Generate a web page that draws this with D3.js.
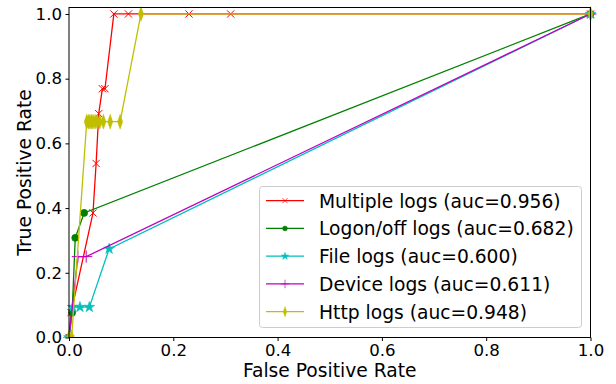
<!DOCTYPE html>
<html>
<head>
<meta charset="utf-8">
<script src="https://cdn.jsdelivr.net/npm/d3@7"></script>
<style>
  body { margin: 0; background: #fff; }
  svg { font-family: "DejaVu Sans", sans-serif; }
</style>
</head>
<body>
<svg id="roc-svg" width="616" height="384"></svg>
<script>
// roc curves
const seriesNames = ['Multiple logs', 'Logon/off logs', 'File logs', 'Device logs', 'Http logs'];
const aucValues = [0.956, 0.682, 0.600, 0.611, 0.948];

const multipleFpr = [0, 0.004, 0.046, 0.052, 0.057, 0.064, 0.069, 0.086, 0.114, 0.230, 0.310, 1];
const multipleTpr = [0, 0.077, 0.385, 0.538, 0.692, 0.769, 0.769, 1, 1, 1, 1, 1];

const logonFpr = [0, 0.006, 0.012, 0.029, 1];
const logonTpr = [0, 0.077, 0.308, 0.385, 1];

const fileFpr = [0, 0.007, 0.021, 0.039, 0.077, 1];
const fileTpr = [0, 0.094, 0.094, 0.094, 0.274, 1];

const deviceFpr = [0, 0.017, 0.033, 1];
const deviceTpr = [0, 0.25, 0.25, 1];

const httpFpr = [0, 0.005, 0.034, 0.037, 0.040, 0.043, 0.046, 0.050, 0.054, 0.059, 0.066, 0.079, 0.098, 0.138, 1];
const httpTpr = [0, 0, 0.667, 0.667, 0.667, 0.667, 0.667, 0.667, 0.667, 0.667, 0.667, 0.667, 0.667, 1, 1];

const xTicks = [0, 0.2, 0.4, 0.6, 0.8, 1.0];
const yTicks = [0, 0.2, 0.4, 0.6, 0.8, 1.0];

const styles = [
  { color: '#ff0000', marker: 'x' },
  { color: '#008000', marker: 'o' },
  { color: '#00bfbf', marker: '*' },
  { color: '#bf00bf', marker: '+' },
  { color: '#bfbf00', marker: 'd' }
];

const allSeries = [
  [multipleFpr, multipleTpr],
  [logonFpr, logonTpr],
  [fileFpr, fileTpr],
  [deviceFpr, deviceTpr],
  [httpFpr, httpTpr]
].map((s, i) => ({
  name: seriesNames[i],
  auc: aucValues[i],
  points: s[0].map((x, j) => ({ x: x, y: s[1][j] })),
  style: styles[i]
}));

const plot = { left: 69, right: 590.5, top: 7.5, bottom: 337.5 };
const svg = d3.select('#roc-svg');

const xScale = d3.scaleLinear().domain([0, 1]).range([plot.left, plot.right]);
const yScale = d3.scaleLinear().domain([0, 1.02]).range([plot.bottom, plot.top]);

function markerPath(m) {
  if (m === 'x') return d3.symbol(d3.symbolX, 36)();
  if (m === '+') return d3.symbol(d3.symbolPlus, 50)();
  if (m === 'o') return d3.symbol(d3.symbolCircle, 40)();
  if (m === '*') return d3.symbol(d3.symbolStar, 36)();
  return d3.symbol(d3.symbolDiamond, 64)();
}

function drawMarker(g, style) {
  let p = g.append('path').attr('d', markerPath(style.marker));
  if (style.marker === 'x' || style.marker === '+') {
    p.attr('fill', 'none').attr('stroke', style.color).attr('stroke-width', 1);
  } else {
    p.attr('fill', style.color).attr('stroke', style.color).attr('stroke-width', 0.6);
  }
  if (style.marker === 'd') p.attr('transform', 'scale(0.6,1)');
}

// curves
const line = d3.line().x(d => xScale(d.x)).y(d => yScale(d.y));

const curves = svg.append('g');
allSeries.forEach(s => {
  curves.append('path')
    .datum(s.points)
    .attr('d', line)
    .attr('fill', 'none')
    .attr('stroke', s.style.color)
    .attr('stroke-width', 1.3);
  s.points.forEach(pt => {
    let g = curves.append('g').attr('transform', `translate(${xScale(pt.x)},${yScale(pt.y)})`);
    drawMarker(g, s.style);
  });
});

// white out marks spilling under the axis
svg.append('rect').attr('x', 0).attr('y', plot.bottom).attr('width', 616).attr('height', 50).attr('fill', '#fff');

// axes
svg.append('g')
  .attr('transform', `translate(0,${plot.bottom})`)
  .call(d3.axisBottom(xScale).tickValues(xTicks).tickFormat(d3.format('.1f')).tickSize(3.5).tickPadding(3.5))
  .call(g => g.select('.domain').remove())
  .selectAll('text').attr('font-size', 16.6).attr('fill', '#000').attr('font-family', 'DejaVu Sans');

svg.append('g')
  .attr('transform', `translate(${plot.left},0)`)
  .call(d3.axisLeft(yScale).tickValues(yTicks).tickFormat(d3.format('.1f')).tickSize(3.5).tickPadding(3.5))
  .call(g => g.select('.domain').remove())
  .selectAll('text').attr('font-size', 16.6).attr('fill', '#000').attr('font-family', 'DejaVu Sans');

svg.append('rect')
  .attr('x', plot.left).attr('y', plot.top)
  .attr('width', plot.right - plot.left).attr('height', plot.bottom - plot.top)
  .attr('fill', 'none').attr('stroke', '#000').attr('stroke-width', 1);

svg.append('text')
  .attr('x', (plot.left + plot.right) / 2).attr('y', 377)
  .attr('text-anchor', 'middle').attr('font-size', 18.7)
  .text('False Positive Rate');

svg.append('text')
  .attr('transform', `translate(31,${(plot.top + plot.bottom) / 2}) rotate(-90)`)
  .attr('text-anchor', 'middle').attr('font-size', 18.7)
  .text('True Positive Rate');

// legend
const legend = svg.append('g');
legend.append('rect')
  .attr('x', 259.5).attr('y', 186.5).attr('width', 322).attr('height', 141).attr('rx', 3)
  .attr('fill', '#fff').attr('fill-opacity', 0.8).attr('stroke', '#ccc').attr('stroke-width', 1);

allSeries.forEach((s, i) => {
  let y = 200.7 + i * 27.75;
  legend.append('line')
    .attr('x1', 266).attr('x2', 304).attr('y1', y).attr('y2', y)
    .attr('stroke', s.style.color).attr('stroke-width', 1.3);
  let g = legend.append('g').attr('transform', `translate(285,${y}) scale(0.7)`);
  drawMarker(g, s.style);
  legend.append('text')
    .attr('x', 319).attr('y', y + 6.8)
    .attr('font-size', 18.7)
    .text(`${s.name} (auc=${s.auc.toFixed(3)})`);
});
</script>
</body>
</html>
